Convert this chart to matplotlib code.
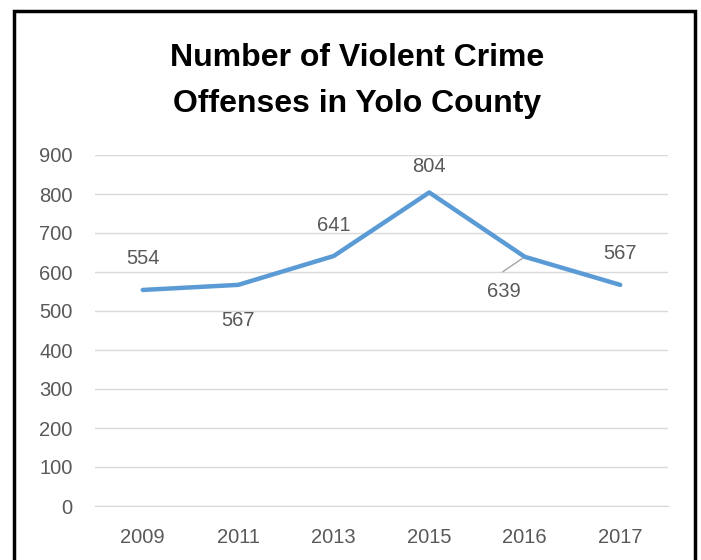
import matplotlib.pyplot as plt
plt.switch_backend('agg')
from matplotlib.patches import Rectangle

plt.rcParams['font.family'] = ['Liberation Sans', 'DejaVu Sans']

years = ['2009', '2011', '2013', '2015', '2016', '2017']
offenses = [554, 567, 641, 804, 639, 567]
# label offsets (pixels) relative to each point
label_dx = [0, 0, 0, 0, -21, 0]
label_dy = [31, -36, 31, 26, -35, 31]

line_color = '#5B9BD5'
text_gray = '#595959'
grid_gray = '#D9D9D9'

fig = plt.figure(figsize=(7.01, 5.6), dpi=100)
ax = fig.add_axes([95/701, (560-506)/560, (668-95)/701, (506-155)/560])

x = list(range(len(years)))
ax.plot(x, offenses, color=line_color, linewidth=3.2, solid_capstyle='round', solid_joinstyle='round', zorder=3)

for i, v in enumerate(offenses):
    ax.annotate(str(v), xy=(i, v), xytext=(label_dx[i], label_dy[i]), textcoords='offset pixels',
                ha='center', va='center', fontsize=14.5, color=text_gray)
# leader line for the 2016 label
ax.annotate('', xy=(4, offenses[4]), xytext=(-22, -15), textcoords='offset pixels',
            arrowprops=dict(arrowstyle='-', color='#A6A6A6', lw=1, shrinkA=0, shrinkB=2))

ax.set_xlim(-0.5, len(years) - 0.5)
ax.set_ylim(0, 900)
ax.set_yticks(range(0, 1000, 100))
ax.set_xticks(x)
ax.set_xticklabels(years)
ax.yaxis.grid(True, color=grid_gray, linewidth=1)
ax.set_axisbelow(True)
for s in ax.spines.values():
    s.set_visible(False)
ax.spines['bottom'].set_visible(True)
ax.spines['bottom'].set_color(grid_gray)
ax.tick_params(axis='both', length=0, labelsize=14.5, colors=text_gray)
ax.tick_params(axis='y', pad=16)
ax.tick_params(axis='x', pad=15.5)

fig.text(357/701, 1 - 81/560, 'Number of Violent Crime\nOffenses in Yolo County', ha='center', va='center',
         fontsize=23, fontweight='bold', color='black', linespacing=1.7)

fig.patches.append(Rectangle((14/701, -0.05), (695-14)/701, 1.05 - 11/560, transform=fig.transFigure,
                             fill=False, edgecolor='black', linewidth=2.5, clip_on=False))

fig.savefig('out.png', dpi=100, facecolor='white')
